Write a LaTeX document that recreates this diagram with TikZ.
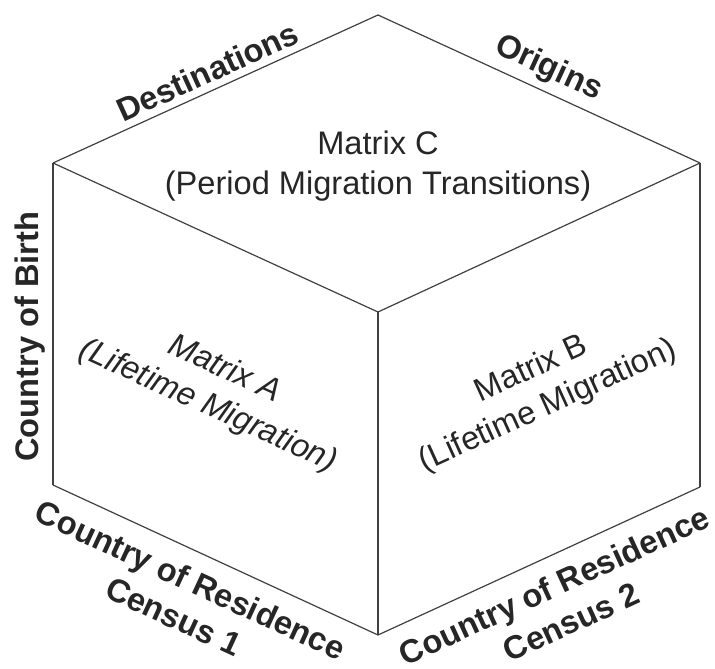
\documentclass[tikz,border=0pt]{standalone}
\usepackage{fontspec}
\setmainfont{Liberation Sans}
\usetikzlibrary{shapes,arrows,positioning}

\begin{document}
\begin{tikzpicture}[x=0.5pt, y=0.5pt, font=\fontsize{16.3}{20}\selectfont,
        edge/.style={draw=black!75, line width=0.6pt},
        axis/.style={font=\bfseries\fontsize{16.3}{20}\selectfont, align=center, text=black!85},
        face/.style={align=center, text=black!85}]

        \useasboundingbox (0,0) rectangle (715,668);

        % Vértices
        \coordinate (top) at (378,653);
        \coordinate (upleft) at (53,505);
        \coordinate (upright) at (700,505);
        \coordinate (center) at (378,356);
        \coordinate (lowleft) at (53,183);
        \coordinate (lowright) at (700,181);
        \coordinate (bottom) at (378,33);

        % Arestas
        \draw [edge] (upleft) -- node[axis, sloped, above, pos=0.5] {Destinations} (top);
        \draw [edge] (top) -- node[axis, sloped, above, pos=0.5] {Origins} (upright);
        \draw [edge] (upleft) -- (center);
        \draw [edge] (center) -- (upright);
        \draw [edge] (center) -- (bottom);
        \draw [edge] (lowleft) -- node[axis, sloped, above, pos=0.46] {Country of Birth} (upleft);
        \draw [edge] (upright) -- (lowright);
        \draw [edge] (lowleft) -- node[axis, sloped, below, inner ysep=8pt, pos=0.46] {Country of Residence\\Census 1} (bottom);
        \draw [edge] (bottom) -- node[axis, sloped, below, inner ysep=8pt, pos=0.51] {Country of Residence\\Census 2} (lowright);

        % Faces
        \node [face] (matc) at (378,502) {Matrix C\\(Period Migration Transitions)};
        \node [face, rotate=-24.5, font=\itshape\fontsize{16.3}{20}\selectfont] (mata) at (216,280) {Matrix A\\(Lifetime Migration)};
        \node [face, rotate=24.5] (matb) at (540,280) {Matrix B\\(Lifetime Migration)};

    \end{tikzpicture}
\end{document}
